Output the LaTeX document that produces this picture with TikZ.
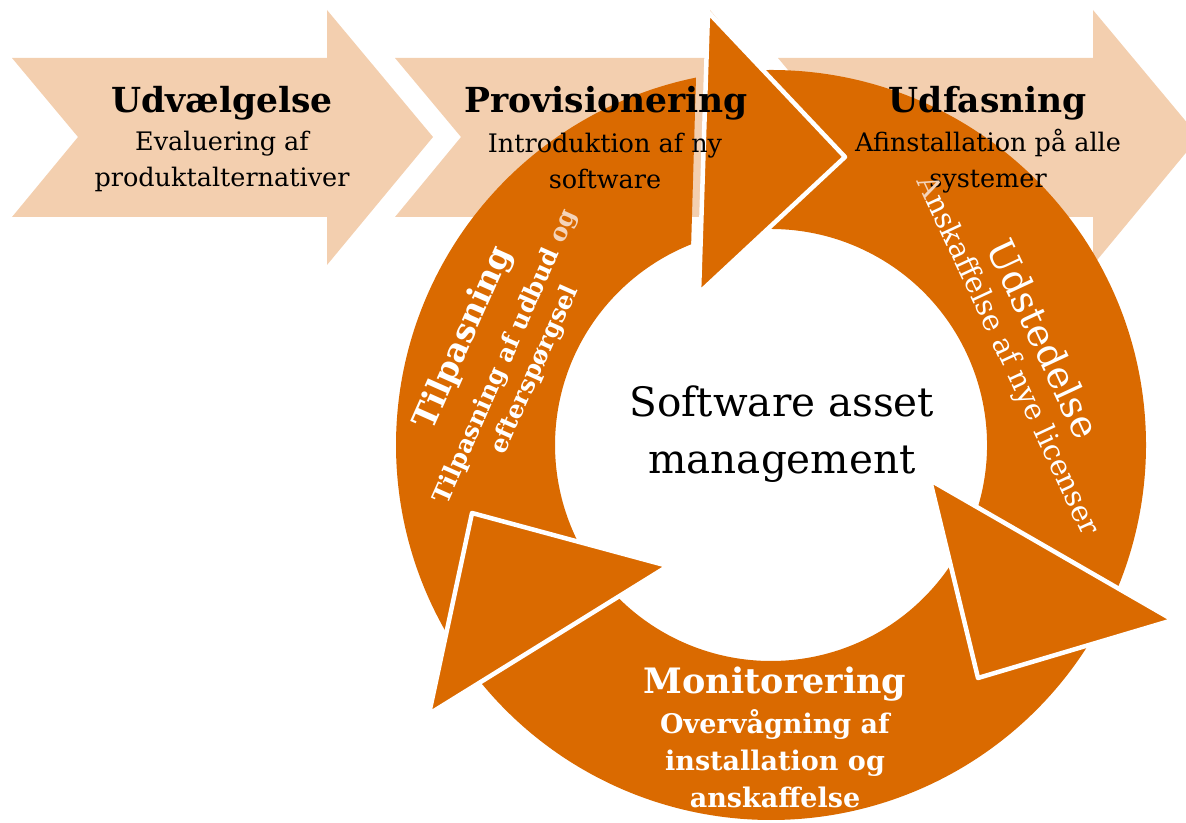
\documentclass[tikz,border=0pt]{standalone}
\usepackage{fontspec}
\setmainfont{DejaVu Serif}
\usetikzlibrary{positioning}
\definecolor{peach}{RGB}{243,207,175}
\definecolor{rust}{RGB}{218,106,0}
\definecolor{palepeach}{RGB}{244,212,186}
\tikzstyle{ring}=[fill=rust]
\tikzstyle{head}=[fill=rust,draw=white,line width=4.5pt,line join=round]
\tikzstyle{chevtitle}=[inner sep=0pt,font=\bfseries\fontsize{34.5}{38}\selectfont]
\tikzstyle{chevsub}=[inner sep=0pt,align=center,font=\fontsize{25.5}{36}\selectfont]
\tikzstyle{ringtext}=[inner sep=0pt,align=center,text=white]
% chevron with its left edge at x = #1
\newcommand{\chevron}[1]{
  \fill[peach] (#1,764) -- ++(315,0) -- ++(0,48) -- ++(106,-127)
    -- ++(-106,-128) -- ++(0,48) -- ++(-315,0) -- ++(66,80) -- cycle;
}
% ring part: outer arc #1 to #2, inner arc #3 back to #1
\newcommand{\ringpart}[3]{
  \fill[ring] (#1:375pt) arc[start angle=#1,end angle=#2,radius=375pt]
    -- (#3:216pt) arc[start angle=#3,end angle=#1,radius=216pt] -- cycle;
}

\begin{document}
\begin{tikzpicture}[x=1pt,y=1pt]
\useasboundingbox (0,0) rectangle (1186,822);
\chevron{12}
\chevron{395}
\chevron{778}
\begin{scope}[shift={(771,377)}]
\ringpart{212}{101.54}{111.7}
\ringpart{92}{-24}{-24}
\ringpart{-30}{-142}{-142}
\end{scope}
\draw[head] (708,810) -- (845,665) -- (699,529) -- cycle;
\draw[head] (930,342) -- (1173,202) -- (978,144) -- cycle;
\draw[head] (472,309) -- (668,256) -- (429,108) -- cycle;
  \node[chevtitle] (udv) at (222,719) {Udvælgelse};
  \node[chevsub] (udvsub) at (222,661) {Evaluering af\\produktalternativer};
  \node[chevtitle] (prov) at (606,719) {Provisionering};
  \node[chevsub] (provsub) at (605,661) {Introduktion af ny\\software};
  \node[chevtitle] (udf) at (988,719) {Udfasning};
  \node[chevsub] (udfsub) at (988,661) {Afinstallation på alle\\systemer};
\begin{scope}[shift={(506,465)},rotate=66,transform shape]
  \node[ringtext,font=\bfseries\fontsize{33}{36}\selectfont] (tilp) at (0,46) {Tilpasning};
  \node[ringtext,font=\bfseries\fontsize{24.5}{30}\selectfont] (tilpsub) at (0,0) {Tilpasning af udbud \textcolor{palepeach}{og}};
  \node[ringtext,font=\bfseries\fontsize{24.5}{30}\selectfont] (efter) at (0,-32) {efterspørgsel};
\end{scope}
\begin{scope}[shift={(1007,466)},rotate=-65,transform shape]
  \node[ringtext,font=\fontsize{38}{40}\selectfont] (udst) at (0,41) {Udstedelse};
  \node[ringtext,font=\fontsize{29}{34}\selectfont] (udstsub) at (0,0) {\textcolor{palepeach}{A}nskaffelse af nye licenser};
\end{scope}
  \node[ringtext,font=\bfseries\fontsize{35}{38}\selectfont] (mon) at (775,138) {Monitorering};
  \node[ringtext,font=\bfseries\fontsize{27}{37}\selectfont] (monsub) at (775,63) {Overvågning af\\installation og\\anskaffelse};
  \node[inner sep=0pt,align=center,font=\fontsize{40.5}{57}\selectfont] (sam) at (782,388) {Software asset\\management};
\end{tikzpicture}
\end{document}
